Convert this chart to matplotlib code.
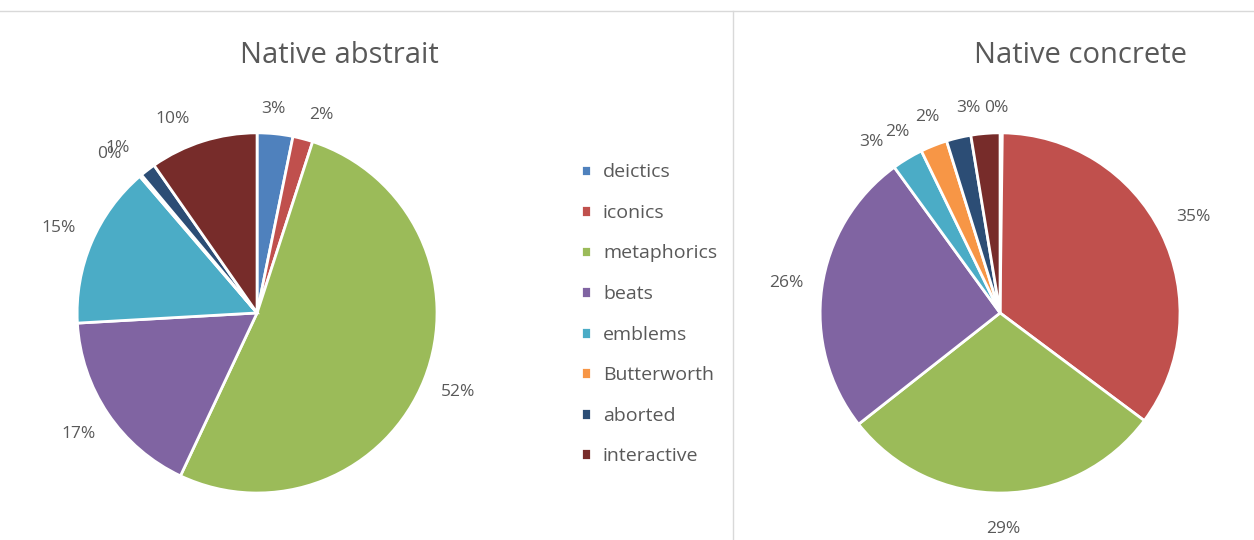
import matplotlib.pyplot as plt
from matplotlib.lines import Line2D

# categories & values (percent)
categories = ["deictics", "iconics", "metaphorics", "beats", "emblems",
              "Butterworth", "aborted", "interactive"]
abstrait = [3.2, 1.8, 52.0, 17.1, 14.6, 0.2, 1.4, 9.7]
concrete = [0.2, 35.0, 29.2, 25.6, 2.8, 2.4, 2.2, 2.6]
colors = ["#4F81BD", "#C0504D", "#9BBB59", "#8064A2", "#4BACC6",
          "#F79646", "#2C4D75", "#772C2A"]

plt.rcParams["font.family"] = ["Open Sans", "DejaVu Sans"]
txt_col = "#595959"

fig = plt.figure(figsize=(12.54, 5.4), dpi=100)

def draw_pie(rect, vals):
    ax = fig.add_axes(rect)
    wedges, _, autotexts = ax.pie(
        vals, colors=colors, startangle=90, counterclock=False,
        autopct="%.0f%%", pctdistance=1.2,
        wedgeprops=dict(edgecolor="white", linewidth=2),
        textprops=dict(color=txt_col, fontsize=12.5))
    ax.set_xlim(-1, 1)
    ax.set_ylim(-1, 1)
    ax.set_aspect("auto")
    ax.axis("off")
    return wedges, autotexts

def nudge(labels, offsets):
    # shift crowded labels a bit, the way Excel lays them out
    for i, (dx, dy) in offsets.items():
        x, y = labels[i].get_position()
        labels[i].set_position((x + dx, y + dy))

w, lbl_l = draw_pie([0.0615, 0.087, 0.287, 0.667], abstrait)
_, lbl_r = draw_pie([0.654, 0.087, 0.287, 0.667], concrete)

nudge(lbl_l, {0: (-0.03, -0.06), 1: (0.05, -0.06), 5: (-0.045, -0.035),
              6: (-0.045, -0.035), 7: (-0.11, -0.07)})
nudge(lbl_r, {0: (-0.03, -0.06), 7: (-0.08, -0.06), 6: (-0.13, -0.08),
              5: (-0.13, -0.11), 4: (-0.10, -0.08)})

fig.text(0.271, 0.897, "Native abstrait", ha="center", va="center",
         fontsize=21, color=txt_col)
fig.text(0.862, 0.897, "Native concrete", ha="center", va="center",
         fontsize=21, color=txt_col)

fig.legend(w, categories, loc="upper left", bbox_to_anchor=(0.449, 0.73),
           frameon=False, fontsize=14, labelcolor=txt_col,
           handlelength=0.55, handleheight=0.55, handletextpad=0.6,
           labelspacing=1.16)

# frame lines
fig.add_artist(Line2D([0, 1], [0.98, 0.98], color="#d9d9d9", lw=1))
fig.add_artist(Line2D([0.5845, 0.5845], [0, 0.98], color="#d9d9d9", lw=1))

fig.savefig("out.png", dpi=100)
